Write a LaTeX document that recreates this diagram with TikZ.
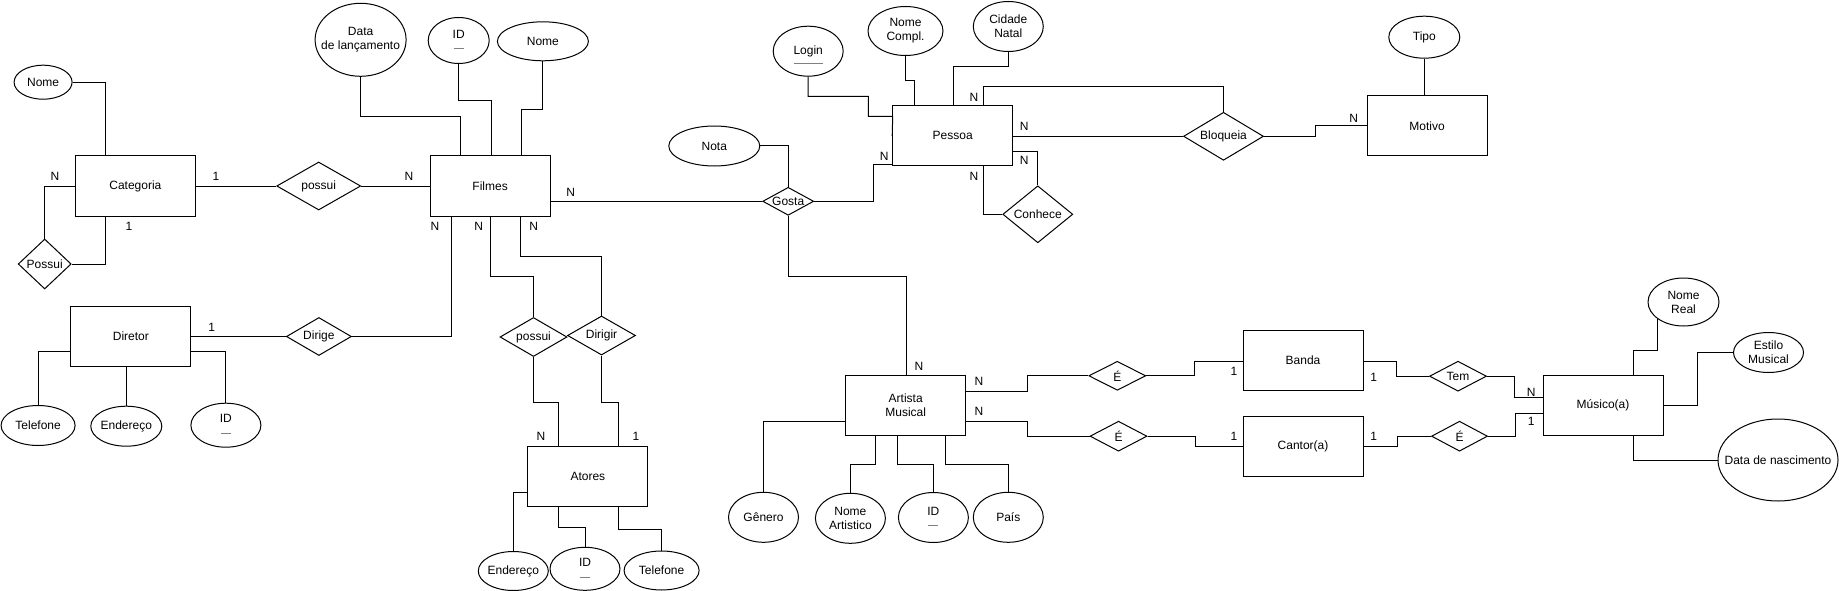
\documentclass[tikz,border=0pt]{standalone}
\usepackage{fontspec}
\setmainfont{Liberation Sans}
\usetikzlibrary{shapes.geometric}
\newcommand{\idlab}{ID\\[-1pt]\textcolor{gray}{\rule[2pt]{10pt}{0.7pt}}}
\tikzset{
  ent/.style={draw, rectangle, minimum width=120pt, minimum height=60pt, inner sep=0pt, align=center},
  rel/.style={draw, diamond, inner sep=0pt},
  att/.style={draw, ellipse, inner sep=0pt},
  card/.style={inner sep=0pt},
}
\begin{document}
\begin{tikzpicture}[x=1pt, y=-1pt, line width=1pt,
  every node/.style={font=\fontsize{12}{14}\selectfont},
  every label/.style={inner sep=0pt}]
\useasboundingbox (0,0) rectangle (1839,591);

% ---------- entities
\node[ent] (cat) at (135.4,186) {Categoria};
\node[ent] (filmes) at (490.1,186) {Filmes};
\node[ent] (diretor) at (130.9,336.5) {Diretor};
\node[ent] (atores) at (587.9,476.8) {Atores};
\node[ent] (pessoa) at (952.7,135.8) {Pessoa};
\node[ent] (motivo) at (1427,126) {Motivo};
\node[ent] (artista) at (905.7,405.7) {Artista\\Musical};
\node[ent] (banda) at (1303,360.7) {Banda};
\node[ent] (cantor) at (1303,446) {Cantor(a)};
\node[ent] (musico) at (1603,405.7) {Músico(a)};

% ---------- relationships
\node[rel, minimum width=53pt, minimum height=50pt, label={center:Possui}] (possuiCat) at (44.7,264) {};
\node[rel, minimum width=84pt, minimum height=48pt, label={center:possui}] (possui1) at (318.7,186) {};
\node[rel, minimum width=65pt, minimum height=38pt, label={center:Dirige}] (dirige) at (318.9,336.5) {};
\node[rel, minimum width=67pt, minimum height=39pt, label={center:possui}] (possui2) at (533.5,337) {};
\node[rel, minimum width=68pt, minimum height=39pt, label={center:Dirigir}] (dirigir) at (601.5,335.5) {};
\node[rel, minimum width=51pt, minimum height=28pt, label={center:Gosta}] (gosta) at (788.2,201.3) {};
\node[rel, minimum width=80pt, minimum height=48pt, label={center:Bloqueia}] (bloqueia) at (1223.5,136.3) {};
\node[rel, minimum width=70pt, minimum height=57pt, label={center:Conhece}] (conhece) at (1037.8,214.3) {};
\node[rel, minimum width=57pt, minimum height=29pt, label={center:É}] (e1) at (1117.3,375.8) {};
\node[rel, minimum width=57pt, minimum height=30pt, label={center:É}] (e2) at (1118.5,436.2) {};
\node[rel, minimum width=57pt, minimum height=30pt, label={center:Tem}] (tem) at (1458,376.2) {};
\node[rel, minimum width=56pt, minimum height=30pt, label={center:É}] (e3) at (1459.5,436.2) {};

% ---------- attributes
\node[att, minimum width=58pt, minimum height=34pt, label={center:Nome}] (nomeCat) at (43.1,82.2) {};
\node[att, minimum width=91pt, minimum height=73pt, label={[align=center]center:Data\\de lançamento}] (dataLanc) at (360.6,39.8) {};
\node[att, minimum width=61pt, minimum height=46pt, label={[align=center]center:\idlab}] (idFilmes) at (458.7,40.5) {};
\node[att, minimum width=91pt, minimum height=39pt, label={center:Nome}] (nomeFilmes) at (542.9,41.3) {};
\node[att, minimum width=74pt, minimum height=40pt, label={center:Telefone}] (telDir) at (38.1,425.5) {};
\node[att, minimum width=71pt, minimum height=40pt, label={center:Endereço}] (endDir) at (126.3,426.2) {};
\node[att, minimum width=70pt, minimum height=44pt, label={[align=center]center:\idlab}] (idDir) at (225.9,425.2) {};
\node[att, minimum width=70pt, minimum height=39pt, label={center:Endereço}] (endAt) at (513.3,571) {};
\node[att, minimum width=70pt, minimum height=43pt, label={[align=center]center:\idlab}] (idAt) at (585,568.8) {};
\node[att, minimum width=75pt, minimum height=39pt, label={center:Telefone}] (telAt) at (661.6,570.5) {};
\node[att, minimum width=70pt, minimum height=50pt, label={center:Login}] (login) at (808.2,51.2) {};
\node[att, minimum width=75pt, minimum height=49pt, label={[align=center]center:Nome\\Compl.}] (nomeCompl) at (905.5,31) {};
\node[att, minimum width=70pt, minimum height=50pt, label={[align=center]center:Cidade\\Natal}] (cidade) at (1008.3,26.5) {};
\node[att, minimum width=91pt, minimum height=40pt, label={center:Nota}] (nota) at (714.3,146) {};
\node[att, minimum width=71pt, minimum height=42pt, label={center:Tipo}] (tipo) at (1424.3,37.2) {};
\node[att, minimum width=70pt, minimum height=50pt, label={center:Gênero}] (genero) at (763.5,517.3) {};
\node[att, minimum width=70pt, minimum height=50pt, label={[align=center]center:Nome\\Artistico}] (nomeArt) at (850.4,518.3) {};
\node[att, minimum width=70pt, minimum height=50pt, label={[align=center]center:\idlab}] (idArt) at (933.4,517.5) {};
\node[att, minimum width=70pt, minimum height=50pt, label={center:País}] (pais) at (1008.3,517.3) {};
\node[att, minimum width=71pt, minimum height=48pt, label={[align=center]center:Nome\\Real}] (nomeReal) at (1683.5,302) {};
\node[att, minimum width=70pt, minimum height=40pt, label={[align=center]center:Estilo\\Musical}] (estilo) at (1768.5,352.5) {};
\node[att, minimum width=120pt, minimum height=82pt, label={center:Data de nascimento}] (dataNasc) at (1778,460) {};

\draw[gray, line width=0.8pt] ([shift={(-14.5,12.5)}]login.center) -- ++(29,0);

% ---------- connectors
\draw (nomeCat.east) -| (105.6,0 |- cat.north);
\draw (cat.west) -| (possuiCat.north);
\draw (possuiCat.east) -| (105.6,0 |- cat.south);
\draw (cat.east) -- (possui1.west);
\draw (possui1.east) -- (filmes.west);
\draw (dataLanc.south) |- (460.6,116.3) -- (460.6,0 |- filmes.north);
\draw (idFilmes.south) |- (491.5,101) -- (491.5,0 |- filmes.north);
\draw (nomeFilmes.south) |- (521.5,109.3) -- (521.5,0 |- filmes.north);
\draw (gosta.west -| filmes.east) -- (gosta.west);
\draw (451.2,0 |- filmes.south) |- (dirige.east);
\draw (diretor.east) -- (dirige.west);
\draw (490.3,0 |- filmes.south) |- (533.5,276.3) -- (possui2.north);
\draw (520.4,0 |- filmes.south) |- (601.5,256.3) -- (dirigir.north);
\draw (possui2.south) |- (558.3,402.3) -- (558.3,0 |- atores.north);
\draw (dirigir.south) |- (618,402.3) -- (618,0 |- atores.north);
\draw (atores.west |- 0,492.3) -| (endAt.north);
\draw (558.3,0 |- atores.south) |- (585,527.3) -- (idAt.north);
\draw (618,0 |- atores.south) |- (661.6,529.3) -- (telAt.north);
\draw (diretor.west |- 0,351.3) -| (telDir.north);
\draw (endDir.north |- diretor.south) -- (endDir.north);
\draw (diretor.east |- 0,351.3) -| (idDir.north);

\draw (login.south) |- (868.3,96.3) |- (892.7,116.3) -- (pessoa.west);
\draw (nomeCompl.south) |- (914.6,81) -- (914.6,0 |- pessoa.north);
\draw (cidade.south) |- (953.3,66.3) -- (953.3,0 |- pessoa.north);
\draw (983,0 |- pessoa.north) |- (1223.5,86.3) -- (bloqueia.north);
\draw (pessoa.east |- bloqueia.west) -- (bloqueia.west);
\draw (bloqueia.east) -| (1315.2,126) -- (motivo.west);
\draw (tipo.south) -- (tipo.south |- motivo.north);
\draw (pessoa.east |- 0,151.7) -| (conhece.north);
\draw (983,0 |- pessoa.south) |- (conhece.west);
\draw (nota.east) -| (gosta.north);
\draw (gosta.east) -| (873.1,164.3) -- (pessoa.west |- 0,164.3);
\draw (gosta.south) |- (906.5,276.3) -- (906.5,0 |- artista.north);

\draw (artista.east |- 0,391) -| (1027.6,375.8) -- (e1.west);
\draw (e1.east) -| (1194.8,361.3) -- (banda.west |- 0,361.3);
\draw (artista.east |- 0,421.3) -| (1027.6,436.2) -- (e2.west);
\draw (e2.east) -| (1195.6,446) -- (cantor.west);
\draw (artista.west |- 0,421.3) -| (genero.north);
\draw (875.7,0 |- artista.south) |- (850.4,464) -- (nomeArt.north);
\draw (897.9,0 |- artista.south) |- (933.4,464) -- (idArt.north);
\draw (945.7,0 |- artista.south) |- (1008.3,464) -- (pais.north);

\draw (banda.east |- 0,361) -| (1396.6,376.2) -- (tem.west);
\draw (tem.east) -| (1514.2,397.7) -- (musico.west |- 0,397.7);
\draw (cantor.east) -| (1397.3,436.2) -- (e3.west);
\draw (e3.east) -| (1515.3,413.3) -- (musico.west |- 0,413.3);
\draw (1633.3,0 |- musico.north) -- (1633.3,350.7) -| (nomeReal.213.8);
\draw (musico.east) -| (1697.8,352.5) -- (estilo.west);
\draw (1633.3,0 |- musico.south) |- (dataNasc.west);

% ---------- cardinalities
\node[card] (k1) at (55,176.7) {N};
\node[card] (k2) at (128.9,226.7) {1};
\node[card] (k3) at (215.9,176.7) {1};
\node[card] (k4) at (408.9,176.7) {N};
\node[card] (k5) at (570.6,192.7) {N};
\node[card] (k6) at (435,226.7) {N};
\node[card] (k7) at (478.8,226.7) {N};
\node[card] (k8) at (533.8,226.7) {N};
\node[card] (k9) at (211.7,327.7) {1};
\node[card] (k10) at (540.9,436.7) {N};
\node[card] (k11) at (635.9,436.7) {1};
\node[card] (k12) at (973.9,97.3) {N};
\node[card] (k13) at (1024.1,126.7) {N};
\node[card] (k14) at (1353.8,118.3) {N};
\node[card] (k15) at (1024.1,160.7) {N};
\node[card] (k16) at (973.9,176.7) {N};
\node[card] (k17) at (884.1,156.7) {N};
\node[card] (k18) at (918.9,366.7) {N};
\node[card] (k19) at (979,381.7) {N};
\node[card] (k20) at (979,411) {N};
\node[card] (k21) at (1233.9,371) {1};
\node[card] (k22) at (1233.9,436.3) {1};
\node[card] (k23) at (1373.8,377.3) {1};
\node[card] (k24) at (1531.3,392) {N};
\node[card] (k25) at (1373.8,436.7) {1};
\node[card] (k26) at (1531.3,421.7) {1};
\end{tikzpicture}
\end{document}
